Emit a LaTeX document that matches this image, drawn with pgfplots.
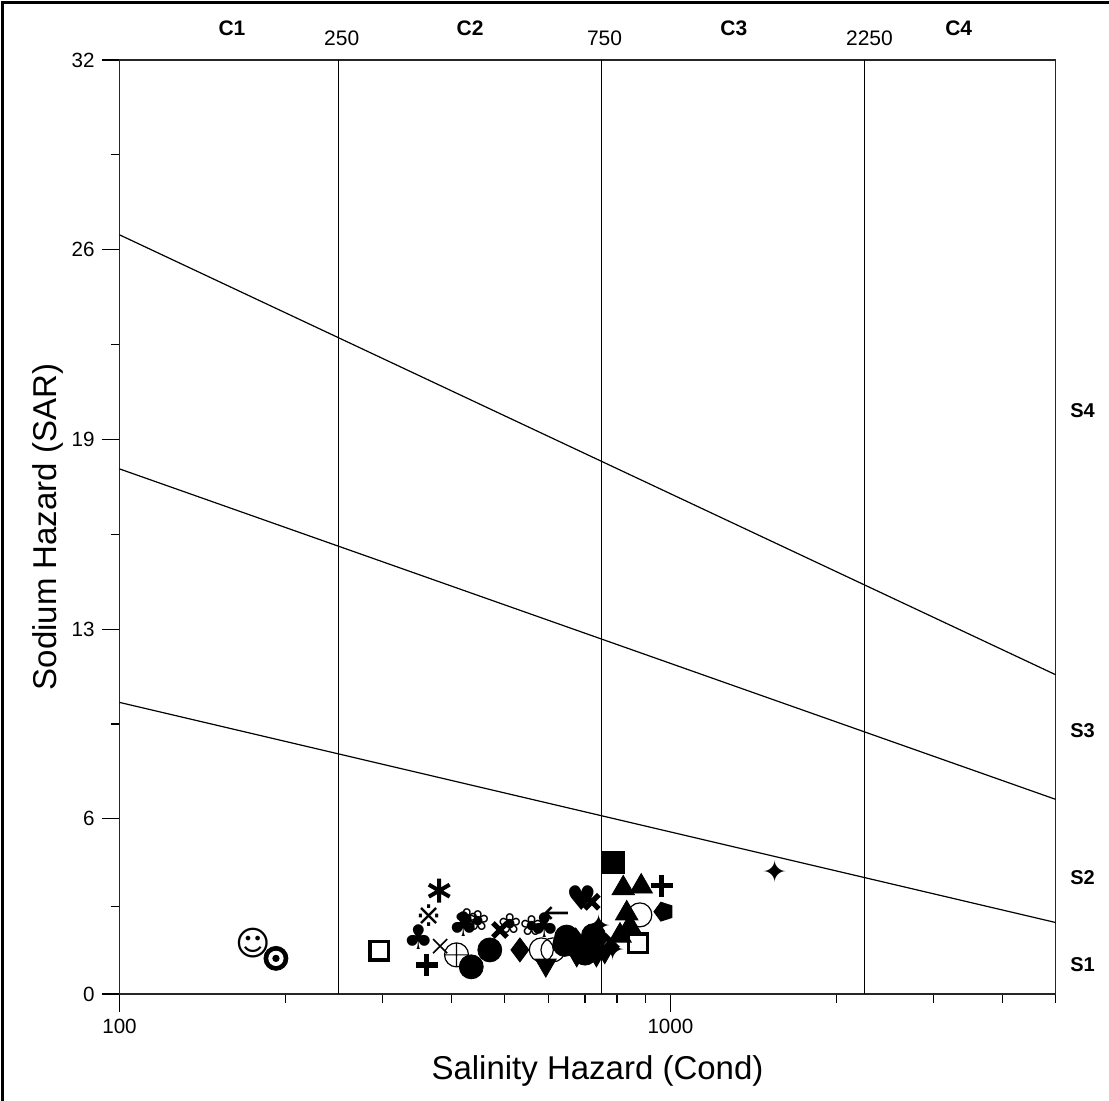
\documentclass[border=0pt]{standalone}
\usepackage{pgfplots}
\pgfplotsset{compat=1.18}
\usepackage{fontspec}
\setmainfont{Liberation Sans}
\newfontfamily\dejavu{DejaVu Sans}

\pgfplotsset{
  glyph/.style 2 args={only marks, black, mark=text, text mark as node=true,
    text mark={\dejavu\fontsize{#2}{#2}\selectfont #1},
    text mark style={anchor=center, inner sep=0pt}},
}

% 1 px of the reference = 0.5pt
\begin{document}
\begin{tikzpicture}
  \path[use as bounding box] (0pt,0pt) rectangle (554.5pt,550.5pt);
  \draw[line width=1.4pt] (1.25pt,0pt) -- (1.25pt,549.25pt) -- (554.5pt,549.25pt);
  \begin{axis}[
    at={(59.75pt,53.5pt)}, anchor=south west,
    scale only axis, width=468pt, height=467pt,
    xmode=log, xmin=100, xmax=5000, ymin=0, ymax=32,
    xtick={100,1000}, xticklabels={100,1000},
    minor xtick={200,300,400,500,600,700,800,900,2000,3000,4000,5000},
    ytick={0,6,12.5,19,25.5,32}, yticklabels={0,6,13,19,26,32},
    minor ytick={3,9.25,15.75,22.25,28.75},
    tick align=outside, xtick pos=bottom, ytick pos=left,
    major tick length=9pt, minor tick length=4.5pt,
    tick style={black, line width=0.6pt},
    axis line style={line width=0.8pt, black!85},
    tick label style={font=\fontsize{10.3}{12}\selectfont},
    xlabel={Salinity Hazard (Cond)}, ylabel={Sodium Hazard (SAR)},
    label style={font=\fontsize{16.5}{19}\selectfont},
    xlabel style={at={([yshift=-43pt, xshift=5pt]axis description cs:0.5,0)}, anchor=base},
    ylabel style={at={([xshift=-36pt]axis description cs:0,0.5)}, anchor=center},
    clip=false,
  ]
    % class boundaries
    \addplot[black, line width=0.6pt] coordinates {(250,0) (250,32)};
    \addplot[black, line width=0.6pt] coordinates {(750,0) (750,32)};
    \addplot[black, line width=0.6pt] coordinates {(2250,0) (2250,32)};
    \addplot[black, line width=0.6pt] coordinates {(100,26.01) (5000,10.94)};
    \addplot[black, line width=0.6pt] coordinates {(100,17.99) (5000,6.67)};
    \addplot[black, line width=0.6pt] coordinates {(100,9.99) (5000,2.45)};

    % samples
    \addplot[only marks, mark=*, mark size=6pt, black]
      coordinates {(435,0.93) (470,1.51) (648,1.95) (725,2.0) (700,1.4) (643,1.7)};
    \addplot[only marks, mark=square*, mark size=5.5pt, black]
      coordinates {(789,4.50)};
    \addplot[only marks, mark=square, mark size=4.6pt, black, line width=1.6pt]
      coordinates {(296,1.48) (873,1.74)};
    \addplot[only marks, mark=triangle*, mark size=6.5pt, black]
      coordinates {(821,3.62) (885,3.68) (833,2.76) (844,2.31) (810,2.0)};
    \addplot[only marks, mark=triangle*, mark size=6pt, black, mark options={rotate=180}]
      coordinates {(594,0.99) (676,1.34) (734,1.34) (760,1.45)};
    \addplot[only marks, mark=+, mark size=5.5pt, black, line width=2.6pt]
      coordinates {(361,0.99) (964,3.71)};
    \addplot[only marks, mark=x, mark size=5pt, black, line width=2.6pt]
      coordinates {(490.5,2.19) (720,3.16) (780,1.8)};
    \addplot[only marks, mark=x, mark size=5pt, black, line width=0.8pt]
      coordinates {(382,1.64)};
    \addplot[only marks, mark=diamond*, mark size=6pt, black]
      coordinates {(533,1.51) (673,1.85)};
    \addplot[only marks, mark=asterisk, mark size=6pt, black, line width=2pt]
      coordinates {(380.5,3.54)};
    \addplot[only marks, mark=o, mark size=6pt, black, line width=0.6pt]
      coordinates {(583,1.51) (612,1.51) (880,2.71)};
    \addplot[only marks, mark=oplus, mark size=6pt, black, line width=0.6pt]
      coordinates {(409,1.34)};
    \addplot[only marks, mark=pentagon*, mark size=5pt, black, mark options={rotate=90}]
      coordinates {(973,2.82)};
    % bullseye
    \addplot[only marks, mark=*, mark size=6pt, black] coordinates {(192.3,1.22)};
    \addplot[only marks, mark=*, mark size=3.6pt, white] coordinates {(192.3,1.22)};
    \addplot[only marks, mark=*, mark size=1.6pt, black] coordinates {(192.3,1.22)};
    % glyph symbols
    \addplot[glyph={☺}{17}] coordinates {(174.9,1.76)};
    \addplot[glyph={※}{15}] coordinates {(365,2.67)};
    \addplot[glyph={♣}{17}] coordinates {(421,2.4) (592,2.36) (350,1.96)};
    \addplot[glyph={♥}{17}] coordinates {(690,3.28)};
    \addplot[glyph={✦}{15}] coordinates {(1548,4.19) (787,1.51) (754,1.85) (741,2.36)};
    \addplot[glyph={❀}{14}] coordinates {(427,2.6) (447,2.53) (511,2.42) (560,2.36)};
    \addplot[glyph={←}{16}] coordinates {(622,2.71)};

    % zone labels
    \node[font=\bfseries\fontsize{10.5}{12}\selectfont, yshift=16pt] at (axis cs:160,32) {C1};
    \node[font=\bfseries\fontsize{10.5}{12}\selectfont, yshift=16pt] at (axis cs:433,32) {C2};
    \node[font=\bfseries\fontsize{10.5}{12}\selectfont, yshift=16pt] at (axis cs:1303,32) {C3};
    \node[font=\bfseries\fontsize{10.5}{12}\selectfont, yshift=16pt] at (axis cs:3337,32) {C4};
    \node[font=\fontsize{10.5}{12}\selectfont, yshift=11pt, xshift=1.5pt] at (axis cs:250,32) {250};
    \node[font=\fontsize{10.5}{12}\selectfont, yshift=11pt, xshift=1.5pt] at (axis cs:750,32) {750};
    \node[font=\fontsize{10.5}{12}\selectfont, yshift=11pt, xshift=2.5pt] at (axis cs:2250,32) {2250};
    \node[font=\bfseries\fontsize{10}{12}\selectfont, xshift=13.5pt] at (axis cs:5000,20) {S4};
    \node[font=\bfseries\fontsize{10}{12}\selectfont, xshift=13.5pt] at (axis cs:5000,9.04) {S3};
    \node[font=\bfseries\fontsize{10}{12}\selectfont, xshift=13.5pt] at (axis cs:5000,4.0) {S2};
    \node[font=\bfseries\fontsize{10}{12}\selectfont, xshift=13.5pt] at (axis cs:5000,1.0) {S1};
  \end{axis}
\end{tikzpicture}
\end{document}
